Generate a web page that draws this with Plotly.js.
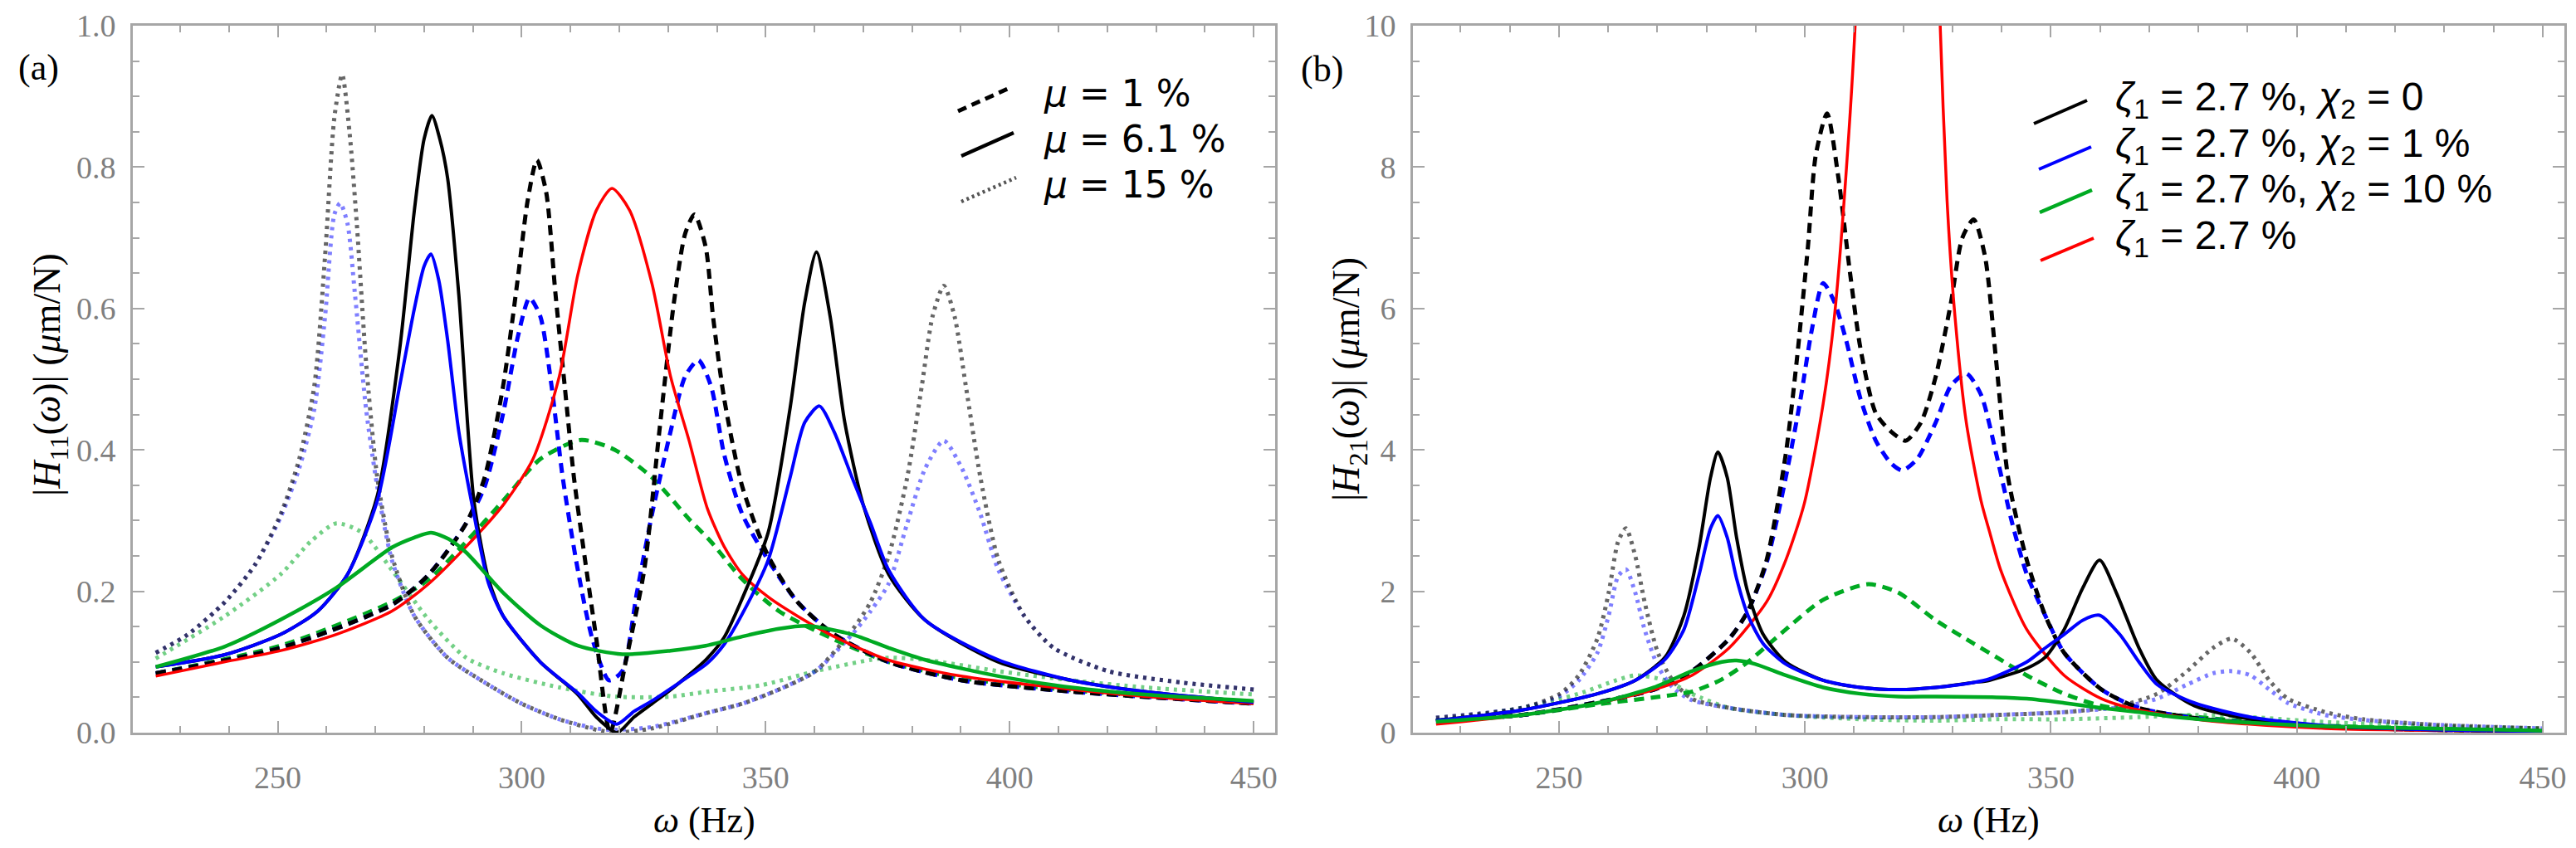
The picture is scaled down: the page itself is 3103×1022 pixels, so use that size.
<!DOCTYPE html>
<html>
<head>
<meta charset="utf-8">
<script src="https://cdn.plot.ly/plotly-3.0.1.min.js"></script>
<style>
  html, body { margin: 0; padding: 0; background: #fff; }
  #chart { width: 3103px; height: 1022px; }
</style>
</head>
<body>
<div id="chart"></div>
<script>
// Panel (a): |H11| in um/N
var aRedX = [225, 239, 250.6, 262, 273.4, 281, 288.6, 296.2, 302.3, 307.7, 311.5, 315.3, 318.5, 322.1, 326.7, 330.5, 334.3, 338, 341.5, 345.2, 350.5, 356.5, 364, 375, 390, 413, 428, 450];
var aRedY = [0.080, 0.100, 0.116, 0.139, 0.172, 0.211, 0.263, 0.322, 0.387, 0.504, 0.648, 0.739, 0.770, 0.739, 0.635, 0.504, 0.413, 0.318, 0.263, 0.224, 0.192, 0.165, 0.136, 0.103, 0.080, 0.061, 0.051, 0.041];

var aBlackSolidX = [225, 239, 250.6, 258.2, 264.3, 270.4, 275, 278, 280, 281.6, 283.2, 284.8, 287.1, 290.2, 293.2, 296.2, 303.8, 311.5, 315.3, 319.5, 323, 326.7, 330, 334.3, 338, 341.5, 345.2, 350.5, 355, 358, 360.4, 363.2, 366.2, 370, 375.2, 382.7, 397.7, 412.7, 427.7, 450];
var aBlackSolidY = [0.093, 0.110, 0.139, 0.172, 0.224, 0.335, 0.543, 0.739, 0.840, 0.873, 0.840, 0.785, 0.620, 0.328, 0.217, 0.165, 0.100, 0.054, 0.022, 0.0, 0.022, 0.041, 0.058, 0.082, 0.105, 0.135, 0.190, 0.283, 0.459, 0.609, 0.680, 0.589, 0.439, 0.322, 0.224, 0.159, 0.100, 0.074, 0.058, 0.043];

var aBlueSolidX = [225, 239, 250.6, 258.2, 264.3, 270.4, 275, 278, 280, 281.4, 283, 284.8, 287.1, 290.2, 293.2, 296.2, 303.8, 311.5, 315.3, 319.5, 323, 326.7, 330, 334.3, 338, 341.5, 345.2, 350.5, 355, 358, 361, 364, 367.7, 371.5, 375.2, 382.7, 397.7, 412.7, 427.7, 450];
var aBlueSolidY = [0.093, 0.110, 0.139, 0.172, 0.224, 0.328, 0.491, 0.600, 0.660, 0.677, 0.640, 0.556, 0.426, 0.309, 0.211, 0.165, 0.100, 0.056, 0.030, 0.012, 0.030, 0.045, 0.060, 0.080, 0.098, 0.125, 0.168, 0.244, 0.361, 0.439, 0.462, 0.426, 0.361, 0.296, 0.230, 0.159, 0.103, 0.074, 0.058, 0.043];

var aGreenSolidX = [225, 239.2, 250.6, 262, 273.4, 278, 281.4, 285, 288.6, 296.2, 303.8, 311.5, 320.6, 330.5, 337.7, 345.2, 352.7, 358.7, 367.7, 375.2, 382.7, 397.7, 412.7, 427.7, 450];
var aGreenSolidY = [0.093, 0.122, 0.160, 0.205, 0.262, 0.276, 0.283, 0.274, 0.255, 0.198, 0.152, 0.123, 0.111, 0.116, 0.123, 0.136, 0.147, 0.151, 0.139, 0.120, 0.103, 0.080, 0.064, 0.054, 0.045];

var aBlackDashX = [225, 250.6, 273.4, 281, 288.6, 292.4, 296.2, 299.3, 301.2, 303.1, 305, 306.9, 308.8, 310.7, 312.6, 315.3, 318.1, 321.3, 325.1, 328.2, 331.2, 333.5, 335.4, 337.7, 339.2, 341.5, 345.2, 350.5, 356.5, 364, 375.2, 390.2, 412.7, 450];
var aBlackDashY = [0.084, 0.120, 0.181, 0.224, 0.296, 0.361, 0.491, 0.648, 0.752, 0.810, 0.765, 0.622, 0.491, 0.361, 0.263, 0.132, 0.0, 0.100, 0.230, 0.426, 0.609, 0.706, 0.733, 0.687, 0.589, 0.472, 0.348, 0.250, 0.185, 0.139, 0.100, 0.074, 0.058, 0.041];

var aBlueDashX = [225, 250.6, 273.4, 281, 288.6, 292.4, 296.2, 299.3, 301.6, 303.8, 306.1, 308.4, 311.5, 314.5, 317.9, 320.6, 323.6, 326.7, 330.5, 333.5, 336.2, 338.8, 341.5, 345.2, 350.5, 356.5, 364, 375.2, 390.2, 412.7, 450];
var aBlueDashY = [0.084, 0.120, 0.181, 0.224, 0.296, 0.348, 0.452, 0.563, 0.615, 0.589, 0.491, 0.361, 0.230, 0.132, 0.074, 0.087, 0.198, 0.309, 0.426, 0.504, 0.527, 0.490, 0.393, 0.309, 0.244, 0.185, 0.139, 0.100, 0.074, 0.058, 0.041];

var aGreenDashX = [225, 250.6, 273.4, 281, 288.6, 296.2, 303.8, 312.2, 319.1, 326.7, 334.3, 338.8, 345.2, 352.7, 364, 375.2, 390.2, 412.7, 450];
var aGreenDashY = [0.084, 0.123, 0.185, 0.217, 0.270, 0.328, 0.387, 0.414, 0.400, 0.361, 0.302, 0.270, 0.217, 0.172, 0.132, 0.100, 0.077, 0.060, 0.042];

var aBlackDotX = [225, 231.6, 239.2, 245.3, 250.6, 254.4, 257.5, 259.7, 261.6, 263.2, 264.7, 266.2, 268.1, 270.4, 273.4, 278, 284.8, 292.4, 300, 307.7, 315.3, 319.1, 326.7, 338, 345.2, 352.7, 360.2, 367.7, 371.5, 375.2, 379, 382, 384.2, 386.5, 388.7, 391, 394, 397.7, 403, 409, 420.2, 435.2, 450];
var aBlackDotY = [0.113, 0.139, 0.185, 0.237, 0.309, 0.387, 0.491, 0.674, 0.870, 0.931, 0.850, 0.720, 0.524, 0.361, 0.250, 0.165, 0.106, 0.071, 0.041, 0.019, 0.004, 0.0, 0.006, 0.028, 0.041, 0.061, 0.087, 0.145, 0.185, 0.250, 0.361, 0.491, 0.589, 0.632, 0.589, 0.491, 0.361, 0.244, 0.165, 0.120, 0.087, 0.071, 0.061];

var aBlueDotX = [225, 231.6, 239.2, 245.3, 250.6, 254.4, 257.5, 259.7, 261.6, 262.8, 264.3, 265.8, 268.1, 270.4, 273.4, 278, 284.8, 292.4, 300, 307.7, 315.3, 319.1, 326.7, 338, 345.2, 352.7, 360.2, 367.7, 371.5, 375.2, 379, 382.7, 386.5, 390.2, 394, 397.7, 403, 409, 420.2, 435.2, 450];
var aBlueDotY = [0.113, 0.139, 0.185, 0.237, 0.305, 0.374, 0.458, 0.589, 0.733, 0.749, 0.720, 0.622, 0.458, 0.348, 0.244, 0.165, 0.106, 0.071, 0.041, 0.019, 0.006, 0.004, 0.008, 0.028, 0.041, 0.061, 0.087, 0.139, 0.172, 0.211, 0.296, 0.374, 0.413, 0.374, 0.309, 0.230, 0.165, 0.120, 0.087, 0.071, 0.061];

var aGreenDotX = [225, 239.2, 250.6, 256.7, 262, 267.3, 273.4, 281, 288.6, 296.2, 307.7, 319.1, 330.5, 338, 349, 360.2, 371.5, 375.2, 382.7, 397.7, 412.7, 427.7, 450];
var aGreenDotY = [0.105, 0.165, 0.224, 0.270, 0.296, 0.283, 0.230, 0.159, 0.106, 0.084, 0.064, 0.051, 0.051, 0.058, 0.067, 0.087, 0.103, 0.106, 0.103, 0.087, 0.074, 0.064, 0.054];

// Panel (b): |H21| in um/N
var bRedX = [225, 242.5, 257.8, 269.3, 277, 284.6, 292.2, 296.1, 299.9, 303.7, 306, 308.3, 310.2, 312, 315, 319, 323, 326, 327.5, 328.9, 330.5, 332.8, 335.8, 337.5, 339.8, 345.1, 352.7, 360.3, 367.9, 383, 405.8, 450];
var bRedY = [0.12, 0.25, 0.42, 0.61, 0.81, 1.20, 1.85, 2.44, 3.25, 4.65, 5.89, 7.85, 10, 14, 22, 28, 22, 14, 10, 7.52, 5.89, 4.39, 3.28, 2.85, 2.30, 1.46, 0.81, 0.48, 0.32, 0.16, 0.06, 0.02];

var bBlackSolidX = [225, 242.5, 257.8, 265.5, 271.6, 275.4, 278.5, 280.8, 282.3, 284.2, 286.1, 288.4, 291.5, 296.1, 303.7, 311.3, 319, 326.6, 334.3, 337.5, 345.1, 348.9, 352.7, 356.5, 359.9, 363.3, 367.9, 371.6, 379.2, 390.6, 405.8, 428.5, 450];
var bBlackSolidY = [0.17, 0.32, 0.55, 0.74, 1.07, 1.66, 2.63, 3.61, 3.97, 3.61, 2.76, 1.98, 1.39, 1.00, 0.74, 0.64, 0.61, 0.64, 0.71, 0.74, 0.91, 1.07, 1.46, 2.05, 2.44, 1.98, 1.20, 0.74, 0.38, 0.19, 0.09, 0.04, 0.02];

var bBlueSolidX = [225, 242.5, 257.8, 265.5, 271.6, 275.4, 278.5, 280.8, 282.3, 284.2, 286.1, 288.4, 291.5, 296.1, 303.7, 311.3, 319, 326.6, 334.3, 337.5, 345.1, 348.9, 352.7, 356.5, 359.9, 364, 367.9, 371.6, 379.2, 390.6, 405.8, 428.5, 450];
var bBlueSolidY = [0.17, 0.32, 0.55, 0.74, 1.04, 1.46, 2.24, 2.89, 3.07, 2.76, 2.18, 1.66, 1.26, 0.97, 0.74, 0.64, 0.61, 0.64, 0.71, 0.76, 1.00, 1.20, 1.39, 1.59, 1.66, 1.39, 1.00, 0.68, 0.42, 0.22, 0.10, 0.04, 0.02];

var bGreenSolidX = [225, 242.5, 257.8, 269.3, 277, 283.1, 286.1, 289.9, 296.1, 303.7, 311.3, 319, 326.6, 338.9, 345.1, 352.7, 360.3, 367.9, 375.4, 390.6, 405.8, 450];
var bGreenSolidY = [0.155, 0.25, 0.42, 0.64, 0.87, 1.00, 1.02, 0.97, 0.81, 0.64, 0.55, 0.51, 0.51, 0.50, 0.48, 0.42, 0.35, 0.29, 0.22, 0.14, 0.09, 0.03];

var bBlackDashX = [225, 242.5, 257.8, 269.3, 277, 284.6, 288.4, 292.2, 296.1, 298.3, 300.6, 302.2, 304.5, 306.8, 309.1, 311.3, 314.4, 317.5, 320.5, 323.6, 326.6, 329.7, 332, 334.3, 336.6, 338.9, 341.3, 345.1, 348.9, 352.7, 360.3, 367.9, 380, 395, 420, 450];
var bBlackDashY = [0.17, 0.25, 0.43, 0.61, 0.87, 1.33, 1.72, 2.44, 3.94, 5.24, 6.87, 8.17, 8.76, 7.85, 6.54, 5.43, 4.52, 4.26, 4.13, 4.39, 5.04, 6.09, 7.00, 7.26, 6.74, 5.24, 3.61, 2.44, 1.65, 1.13, 0.61, 0.35, 0.20, 0.12, 0.05, 0.02];

var bBlueDashX = [225, 242.5, 257.8, 269.3, 277, 284.6, 288.4, 292.2, 296.1, 299.1, 301.4, 303.7, 306, 308.3, 311.3, 314.4, 317.5, 319.8, 322.8, 326.6, 329.7, 332.8, 335.8, 338.9, 342, 345.1, 348.9, 352.7, 360.3, 367.9, 380, 395, 420, 450];
var bBlueDashY = [0.17, 0.25, 0.43, 0.61, 0.87, 1.33, 1.72, 2.40, 3.61, 4.72, 5.70, 6.36, 6.09, 5.57, 4.72, 4.13, 3.81, 3.71, 3.87, 4.39, 4.91, 5.08, 4.78, 3.94, 3.00, 2.24, 1.65, 1.13, 0.61, 0.35, 0.20, 0.12, 0.05, 0.02];

var bGreenDashX = [225, 242.5, 257.8, 269.3, 277, 283, 288.4, 296.1, 303.7, 312.9, 319, 326.6, 334.3, 338.9, 345.1, 352.7, 360.3, 375.4, 398, 450];
var bGreenDashY = [0.17, 0.25, 0.40, 0.50, 0.58, 0.75, 1.00, 1.46, 1.88, 2.10, 1.98, 1.59, 1.26, 1.07, 0.81, 0.55, 0.38, 0.25, 0.12, 0.02];

var bBlackDotX = [225, 242.5, 250.2, 254, 257.8, 260.1, 262, 263.6, 265.5, 267.4, 270.1, 273.1, 277, 284.6, 296.1, 311.3, 326.6, 338.9, 352.7, 364, 371.6, 377.7, 383, 386.8, 390.6, 394.4, 398.2, 405.8, 413.4, 428.5, 450];
var bBlackDotY = [0.21, 0.35, 0.55, 0.81, 1.33, 1.98, 2.70, 2.89, 2.50, 1.85, 1.13, 0.74, 0.48, 0.35, 0.25, 0.22, 0.22, 0.25, 0.29, 0.38, 0.55, 0.87, 1.20, 1.33, 1.13, 0.74, 0.48, 0.29, 0.19, 0.11, 0.06];

var bBlueDotX = [225, 242.5, 250.2, 254, 257.8, 260.1, 262, 263.6, 265.5, 267.4, 270.1, 273.1, 277, 284.6, 296.1, 311.3, 326.6, 338.9, 352.7, 364, 371.6, 377.7, 383, 386.8, 390.6, 394.4, 398.2, 405.8, 413.4, 428.5, 450];
var bBlueDotY = [0.21, 0.35, 0.52, 0.74, 1.13, 1.66, 2.21, 2.31, 1.98, 1.46, 0.94, 0.64, 0.46, 0.35, 0.25, 0.22, 0.22, 0.25, 0.29, 0.36, 0.48, 0.68, 0.84, 0.87, 0.81, 0.61, 0.42, 0.25, 0.18, 0.11, 0.06];

var bGreenDotX = [225, 242.5, 254, 261.6, 265.5, 271.6, 277, 284.6, 296.1, 311.3, 326.6, 338.9, 352.7, 367.9, 379.2, 390.6, 405.8, 428.5, 450];
var bGreenDotY = [0.17, 0.35, 0.55, 0.74, 0.81, 0.74, 0.55, 0.35, 0.25, 0.19, 0.17, 0.19, 0.19, 0.22, 0.25, 0.22, 0.15, 0.09, 0.06];

// Legend labels
var legendA = ['<i>μ</i> = 1 %', '<i>μ</i> = 6.1 %', '<i>μ</i> = 15 %'];
var legendB = ['<i>ζ</i><sub>1</sub> = 2.7 %, <i>χ</i><sub>2</sub> = 0',
               '<i>ζ</i><sub>1</sub> = 2.7 %, <i>χ</i><sub>2</sub> = 1 %',
               '<i>ζ</i><sub>1</sub> = 2.7 %, <i>χ</i><sub>2</sub> = 10 %',
               '<i>ζ</i><sub>1</sub> = 2.7 %'];

var BLACK = '#000000', BLUE = '#0000ff', GREEN = '#00aa22', RED = '#ff0000';
var DASH = '12px,8px', DOT = '4px,6px';

function curve(x, y, color, dash, width, opacity, xa, ya) {
  return {
    type: 'scatter', mode: 'lines', x: x, y: y,
    xaxis: xa, yaxis: ya, opacity: opacity, hoverinfo: 'skip', showlegend: false,
    line: {color: color, dash: dash, width: width, shape: 'spline', smoothing: 0.7}
  };
}

var traces = [
  // (a)
  curve(aGreenDotX, aGreenDotY, GREEN, DOT, 5, 0.55, 'x', 'y'),
  curve(aBlueDotX, aBlueDotY, BLUE, DOT, 5, 0.5, 'x', 'y'),
  curve(aBlackDotX, aBlackDotY, BLACK, DOT, 5, 0.6, 'x', 'y'),
  curve(aGreenDashX, aGreenDashY, GREEN, DASH, 5, 1, 'x', 'y'),
  curve(aBlueDashX, aBlueDashY, BLUE, DASH, 5, 1, 'x', 'y'),
  curve(aBlackDashX, aBlackDashY, BLACK, DASH, 5, 1, 'x', 'y'),
  curve(aRedX, aRedY, RED, 'solid', 3.5, 1, 'x', 'y'),
  curve(aBlackSolidX, aBlackSolidY, BLACK, 'solid', 4, 1, 'x', 'y'),
  curve(aBlueSolidX, aBlueSolidY, BLUE, 'solid', 4, 1, 'x', 'y'),
  curve(aGreenSolidX, aGreenSolidY, GREEN, 'solid', 4.5, 1, 'x', 'y'),
  // (b)
  curve(bGreenDotX, bGreenDotY, GREEN, DOT, 5, 0.55, 'x2', 'y2'),
  curve(bBlueDotX, bBlueDotY, BLUE, DOT, 5, 0.5, 'x2', 'y2'),
  curve(bBlackDotX, bBlackDotY, BLACK, DOT, 5, 0.6, 'x2', 'y2'),
  curve(bGreenDashX, bGreenDashY, GREEN, DASH, 5, 1, 'x2', 'y2'),
  curve(bBlueDashX, bBlueDashY, BLUE, DASH, 5, 1, 'x2', 'y2'),
  curve(bBlackDashX, bBlackDashY, BLACK, DASH, 5, 1, 'x2', 'y2'),
  curve(bRedX, bRedY, RED, 'solid', 3.5, 1, 'x2', 'y2'),
  curve(bBlackSolidX, bBlackSolidY, BLACK, 'solid', 4, 1, 'x2', 'y2'),
  curve(bBlueSolidX, bBlueSolidY, BLUE, 'solid', 4, 1, 'x2', 'y2'),
  curve(bGreenSolidX, bGreenSolidY, GREEN, 'solid', 4.5, 1, 'x2', 'y2')
];

var W = 3103, H = 1022;
function px(v) { return v / W; }
function py(v) { return 1 - v / H; }

var FRAME = '#a6a6a6';
var tickFont = {family: 'Liberation Serif, serif', size: 38, color: '#7f7f7f'};

function xAxis(domain, anchor) {
  return {
    domain: domain, anchor: anchor, range: [220.3, 454.4],
    dtick: 50, tick0: 0, ticks: 'inside', ticklen: 14, tickwidth: 2, tickcolor: FRAME,
    minor: {dtick: 10, ticks: 'inside', ticklen: 8, tickwidth: 2, tickcolor: FRAME},
    showline: true, linecolor: FRAME, linewidth: 3, mirror: 'ticks',
    showgrid: false, zeroline: false, tickfont: tickFont, ticklabelstandoff: 18
  };
}
function yAxis(domain, anchor, range, dtick, mdtick, fmt) {
  return {
    domain: domain, anchor: anchor, range: range,
    dtick: dtick, tick0: 0, tickformat: fmt, ticks: 'inside', ticklen: 14, tickwidth: 2, tickcolor: FRAME,
    minor: {dtick: mdtick, ticks: 'inside', ticklen: 8, tickwidth: 2, tickcolor: FRAME},
    showline: true, linecolor: FRAME, linewidth: 3, mirror: 'ticks',
    showgrid: false, zeroline: false, tickfont: tickFont, ticklabelstandoff: 10
  };
}

var yDom = [py(883), py(31)];

var serif = 'Liberation Serif, serif';
var annotations = [
  {text: '<i>ω</i> (Hz)', x: px(848), y: py(988), font: {family: serif, size: 44, color: '#000'}},
  {text: '<i>ω</i> (Hz)', x: px(2395), y: py(988), font: {family: serif, size: 44, color: '#000'}},
  {text: '|<i>H</i><sub>11</sub>(<i>ω</i>)| (<i>μ</i>m/N)', x: px(60), y: py(452), textangle: -90,
   font: {family: serif, size: 46, color: '#000'}},
  {text: '|<i>H</i><sub>21</sub>(<i>ω</i>)| (<i>μ</i>m/N)', x: px(1625), y: py(457), textangle: -90,
   font: {family: serif, size: 46, color: '#000'}},
  {text: '(a)', x: px(46), y: py(82), font: {family: serif, size: 44, color: '#000'}},
  {text: '(b)', x: px(1592), y: py(83), font: {family: serif, size: 44, color: '#000'}}
];
annotations.forEach(function (a) {
  a.xref = 'paper'; a.yref = 'paper'; a.showarrow = false;
  a.xanchor = 'center'; a.yanchor = 'middle';
});

var legAY = [112, 167, 222];
legendA.forEach(function (t, i) {
  annotations.push({text: t, x: px(1255), y: py(legAY[i]), xref: 'paper', yref: 'paper',
    showarrow: false, xanchor: 'left', yanchor: 'middle',
    font: {family: 'DejaVu Sans, sans-serif', size: 44, color: '#000'}});
});
var legBY = [120, 176, 231, 287];
legendB.forEach(function (t, i) {
  annotations.push({text: t, x: px(2546), y: py(legBY[i]), xref: 'paper', yref: 'paper',
    showarrow: false, xanchor: 'left', yanchor: 'middle',
    font: {family: 'Liberation Sans, sans-serif', size: 48, color: '#000'}});
});

// slanted legend glyphs
function glyph(x0, y0, x1, y1, color, dash, width) {
  return {type: 'line', xref: 'paper', yref: 'paper', x0: px(x0), y0: py(y0), x1: px(x1), y1: py(y1),
    line: {color: color, dash: dash, width: width}};
}
var shapes = [
  glyph(1154, 134, 1216, 106, BLACK, '11px,7px', 5),
  glyph(1158, 188, 1221, 160, BLACK, 'solid', 4.5),
  glyph(1158, 243, 1224, 214, '#555555', '3px,4px', 4.5),
  glyph(2450, 149, 2514, 121, BLACK, 'solid', 4),
  glyph(2456, 204, 2519, 177, BLUE, 'solid', 4),
  glyph(2457, 256, 2520, 229, GREEN, 'solid', 4.5),
  glyph(2458, 314, 2522, 287, RED, 'solid', 4)
];

var layout = {
  width: W, height: H,
  margin: {l: 0, r: 0, t: 0, b: 0},
  paper_bgcolor: '#ffffff', plot_bgcolor: '#ffffff',
  showlegend: false,
  xaxis: xAxis([px(160), px(1536)], 'y'),
  yaxis: yAxis(yDom, 'x', [0, 1], 0.2, 0.05, '.1f'),
  xaxis2: xAxis([px(1702), px(3089)], 'y2'),
  yaxis2: yAxis(yDom, 'x2', [0, 10], 2, 0.5, 'd'),
  annotations: annotations,
  shapes: shapes
};

Plotly.newPlot('chart', traces, layout, {displayModeBar: false, staticPlot: true});
</script>
</body>
</html>
